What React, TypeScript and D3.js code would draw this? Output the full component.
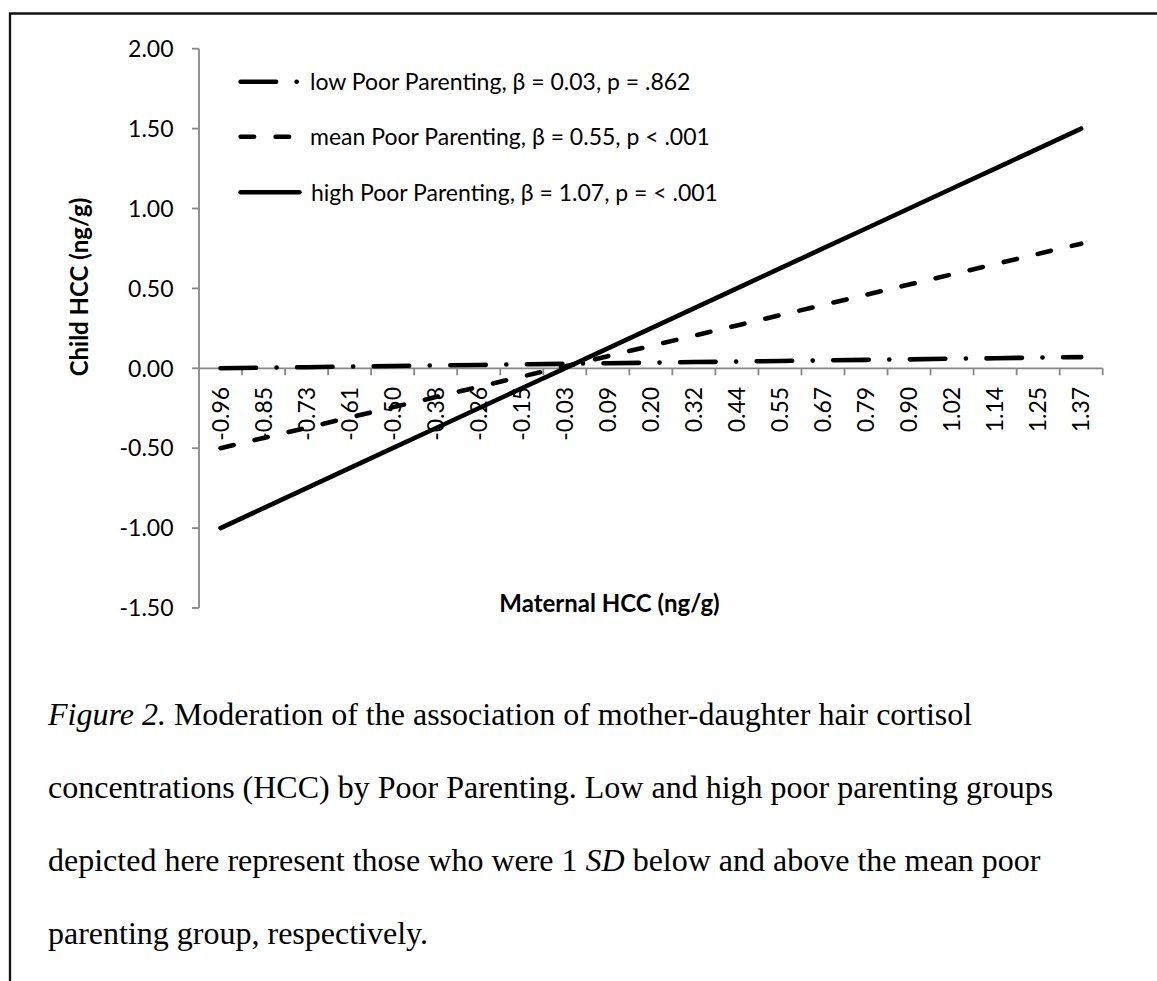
import React from "react";
import * as d3 from "d3";

// maternal HCC categories shown on the x axis
const categories = [
  "-0.96", "-0.85", "-0.73", "-0.61", "-0.50", "-0.38", "-0.26", "-0.15", "-0.03",
  "0.09", "0.20", "0.32", "0.44", "0.55", "0.67", "0.79", "0.90", "1.02", "1.14",
  "1.25", "1.37",
];

// child HCC (straight simple slopes)
const lowValues = [
  0.0, 0.004, 0.007, 0.011, 0.014, 0.018, 0.021, 0.025, 0.028, 0.032, 0.035,
  0.039, 0.042, 0.046, 0.049, 0.053, 0.056, 0.06, 0.063, 0.067, 0.07,
];
const meanValues = [
  -0.5, -0.436, -0.372, -0.308, -0.244, -0.18, -0.116, -0.052, 0.012, 0.076,
  0.14, 0.204, 0.268, 0.332, 0.396, 0.46, 0.524, 0.588, 0.652, 0.716, 0.78,
];
const highValues = [
  -1.0, -0.875, -0.75, -0.625, -0.5, -0.375, -0.25, -0.125, 0.0, 0.125, 0.25,
  0.375, 0.5, 0.625, 0.75, 0.875, 1.0, 1.125, 1.25, 1.375, 1.5,
];

const yTicks = [-1.5, -1.0, -0.5, 0, 0.5, 1.0, 1.5, 2.0];

const seriesLabels = [
  "low Poor Parenting, β = 0.03, p = .862",
  "mean Poor Parenting, β = 0.55, p < .001",
  "high Poor Parenting, β = 1.07, p = < .001",
];

const yTitle = "Child HCC (ng/g)";
const xTitle = "Maternal HCC (ng/g)";

const W = 1157;
const H = 981;
const plot = { left: 199, right: 1102.7, top: 48.7, bottom: 608 };

const font = "Lato, 'Open Sans', sans-serif";
const serif = "'Liberation Serif', 'Times New Roman', serif";

const dashes = ["35.5 20.5 0.1 20.5", "13.5 21.5", null];
const strokeW = 4.6;

const App = () => {
  const xScale = d3
    .scaleBand()
    .domain(categories)
    .range([plot.left, plot.right])
    .padding(0);
  const bw = xScale.bandwidth();
  const yScale = d3.scaleLinear().domain([-1.5, 2]).range([plot.bottom, plot.top]);

  const cx = (c) => xScale(c) + bw / 2;
  const lineGen = d3
    .line()
    .x((d, i) => cx(categories[i]))
    .y((d) => yScale(d));

  const series = [lowValues, meanValues, highValues];
  const y0 = yScale(0);
  const fmt = (v) => d3.format(".2f")(v).replace("\u2212", "-");

  const legendY = [81.7, 136.7, 192.3];

  return (
    <svg
      width={W}
      height={H}
      style={{ position: "absolute", left: 0, top: 0, display: "block" }}
    >
      <rect x={0} y={0} width={W} height={H} fill="#fff" />
      {/* frame */}
      <path d={`M10,${H} V13.5 H${W}`} fill="none" stroke="#111" strokeWidth={2.3} />

      {/* y axis */}
      <line x1={plot.left} x2={plot.left} y1={plot.top} y2={plot.bottom} stroke="#878787" strokeWidth={1.8} />
      {yTicks.map((t) => (
        <g key={t} transform={`translate(0,${yScale(t)})`}>
          <line x1={plot.left - 7} x2={plot.left} stroke="#878787" strokeWidth={1.8} />
          <text
            x={173.5}
            dy="0.36em"
            textAnchor="end"
            fontFamily={font}
            fontSize={23}
            fill="#000"
          >
            {fmt(t)}
          </text>
        </g>
      ))}

      {/* x axis at zero */}
      <line x1={plot.left} x2={plot.right} y1={y0} y2={y0} stroke="#878787" strokeWidth={1.8} />
      {categories.map((c, i) => (
        <line
          key={"t" + i}
          x1={xScale(c) + bw}
          x2={xScale(c) + bw}
          y1={y0}
          y2={y0 + 7}
          stroke="#878787"
          strokeWidth={1.8}
        />
      ))}
      {categories.map((c) => (
        <text
          key={"l" + c}
          transform={`translate(${cx(c)},${y0 + 18.5}) rotate(-90)`}
          dy="0.36em"
          textAnchor="end"
          fontFamily={font}
          fontSize={23}
          fill="#000"
        >
          {c}
        </text>
      ))}

      {/* series */}
      {series.map((vals, i) => (
        <path
          key={"s" + i}
          d={lineGen(vals)}
          fill="none"
          stroke="#000"
          strokeWidth={strokeW}
          strokeLinecap="round"
          strokeDasharray={dashes[i] || undefined}
        />
      ))}

      {/* legend */}
      {seriesLabels.map((lab, i) => (
        <g key={"lg" + i} transform={`translate(0,${legendY[i]})`}>
          <line
            x1={240.6}
            x2={299.4}
            stroke="#000"
            strokeWidth={strokeW}
            strokeLinecap="round"
            strokeDasharray={dashes[i] || undefined}
          />
          <text
            x={i === 2 ? 311 : 310}
            dy="0.36em"
            fontFamily={font}
            fontSize={23}
            fill="#000"
          >
            {lab}
          </text>
        </g>
      ))}

      {/* axis titles */}
      <text
        transform={`translate(88,287) rotate(-90)`}
        textAnchor="middle"
        fontFamily={font}
        fontWeight="bold"
        fontSize={24}
        fill="#000"
      >
        {yTitle}
      </text>
      <text
        x={609.5}
        y={611.7}
        textAnchor="middle"
        fontFamily={font}
        fontWeight="bold"
        fontSize={24}
        fill="#000"
      >
        {xTitle}
      </text>

      {/* caption */}
      <g fontFamily={serif} fontSize={32} fill="#000">
        <text x={48} y={725}>
          <tspan fontStyle="italic">Figure 2.</tspan> Moderation of the association of mother-daughter hair cortisol
        </text>
        <text x={48} y={798}>
          concentrations (HCC) by Poor Parenting. Low and high poor parenting groups
        </text>
        <text x={48} y={871}>
          depicted here represent those who were 1 <tspan fontStyle="italic">SD</tspan> below and above the mean poor
        </text>
        <text x={48} y={944}>
          parenting group, respectively.
        </text>
      </g>
    </svg>
  );
};

export default App;
